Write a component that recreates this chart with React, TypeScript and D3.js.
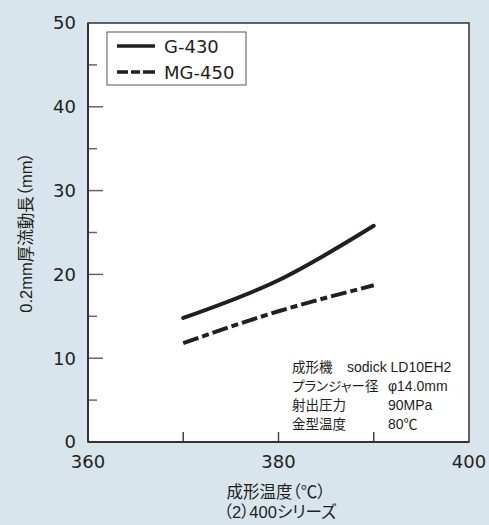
import React from 'react';
import * as d3 from 'd3';

const temps = [370, 380, 390];
const g430 = [14.8, 19.3, 25.8];
const mg450 = [11.8, 15.6, 18.7];
const seriesNames = ['G-430', 'MG-450'];
const yMajor = [0, 10, 20, 30, 40, 50];
const yMinor = [5, 15, 25, 35, 45];
const xTicks = [370, 380, 390];
const xLabels = [360, 380, 400];
const noteKeys = ['成形機', 'プランジャー径', '射出圧力', '金型温度'];
const noteVals = ['sodick LD10EH2', 'φ14.0mm', '90MPa', '80℃'];

const W = 489;
const H = 525;
const NUM = 'DejaVu Sans, Verdana, sans-serif';
const FONT = 'Liberation Sans, Arial, Noto Sans CJK JP, sans-serif';
const JP = 'Noto Sans CJK JP, sans-serif';
const INK = '#231f20';

export default function App() {
  const margin = { left: 88, right: 20, top: 23, bottom: 83 };
  const x = d3.scaleLinear().domain([360, 400]).range([margin.left, W - margin.right]);
  const y = d3.scaleLinear().domain([0, 50]).range([H - margin.bottom, margin.top]);

  const line = d3.line<number>()
    .x((_, i) => x(temps[i]))
    .y(d => y(d))
    .curve(d3.curveMonotoneX);

  const x0 = x.range()[0], x1 = x.range()[1];
  const y0 = y.range()[0], y1 = y.range()[1];
  const palt = { fontFeatureSettings: '"palt"' };

  return (
    <div style={{ position: 'fixed', left: 0, top: 0 }}>
      <svg width={W} height={H} style={{ display: 'block' }}>
        <rect width={W} height={H} fill="#d8e5ec" />
        <rect x={x0} y={y1} width={x1 - x0} height={y0 - y1} fill="#ffffff" stroke="#333" strokeWidth={1.5} />
        {/* ticks */}
        {yMajor.slice(1, -1).map(v => (
          <line key={'ym' + v} x1={x0} x2={x0 + 15} y1={y(v)} y2={y(v)} stroke="#666" strokeWidth={1.5} />
        ))}
        {yMinor.map(v => (
          <line key={'yn' + v} x1={x0} x2={x0 + 9} y1={y(v)} y2={y(v)} stroke="#666" strokeWidth={1.5} />
        ))}
        {xTicks.map(v => (
          <line key={'xt' + v} x1={x(v)} x2={x(v)} y1={y0} y2={y0 - 10} stroke="#444" strokeWidth={1.5} />
        ))}
        {/* main axes */}
        <line x1={x0} x2={x0} y1={y1} y2={y0} stroke="#333" strokeWidth={2} />
        <line x1={x0} x2={x1} y1={y0} y2={y0} stroke="#333" strokeWidth={2} />
        {/* tick labels */}
        {yMajor.map(v => (
          <text key={'yl' + v} x={x0 - 12} y={y(v)} dy="0.36em" textAnchor="end" fontFamily={NUM} fontSize={18} fill={INK}>{v}</text>
        ))}
        {xLabels.map(v => (
          <text key={'xl' + v} x={x(v)} y={y0 + 26} textAnchor="middle" fontFamily={NUM} fontSize={18} fill={INK}>{v}</text>
        ))}
        {/* series */}
        <path d={line(g430) || ''} fill="none" stroke={INK} strokeWidth={4} strokeLinecap="round" />
        <path d={line(mg450) || ''} fill="none" stroke={INK} strokeWidth={4} strokeDasharray="16,4,7,4" />
        {/* legend */}
        <rect x={107} y={32} width={139} height={53} fill="#fff" stroke="#555" strokeWidth={1} />
        <line x1={117} x2={155} y1={46} y2={46} stroke={INK} strokeWidth={3.5} />
        <line x1={117} x2={155} y1={72} y2={72} stroke={INK} strokeWidth={3.5} strokeDasharray="11,3,9,3,12" />
        <text x={164} y={52.5} fontFamily={NUM} fontSize={18} fill={INK}>{seriesNames[0]}</text>
        <text x={164} y={78.5} fontFamily={NUM} fontSize={18} fill={INK}>{seriesNames[1]}</text>
        {/* note */}
        {noteKeys.map((k, i) => (
          <text key={k} x={292} y={372 + i * 19} fontFamily={JP} fontSize={13.5} fill={INK} style={palt}>{k}</text>
        ))}
        {noteVals.map((v, i) => (
          <text key={v} x={i === 0 ? 347 : 388} y={372 + i * 19} fontFamily={FONT} fontSize={14} fill={INK}>{v}</text>
        ))}
        {/* axis titles */}
        <text transform={`translate(32,${(y0 + y1) / 2}) rotate(-90)`} textAnchor="middle" fontFamily={FONT} fontSize={16.5} fill={INK} style={palt}>0.2mm厚流動長（mm）</text>
        <text x={276} y={498} textAnchor="middle" fontFamily={FONT} fontSize={16.5} fill={INK} style={palt}>成形温度（℃）</text>
        <text x={280} y={518} textAnchor="middle" fontFamily={FONT} fontSize={16.5} fill={INK} style={palt}>（2）400シリーズ</text>
      </svg>
    </div>
  );
}
